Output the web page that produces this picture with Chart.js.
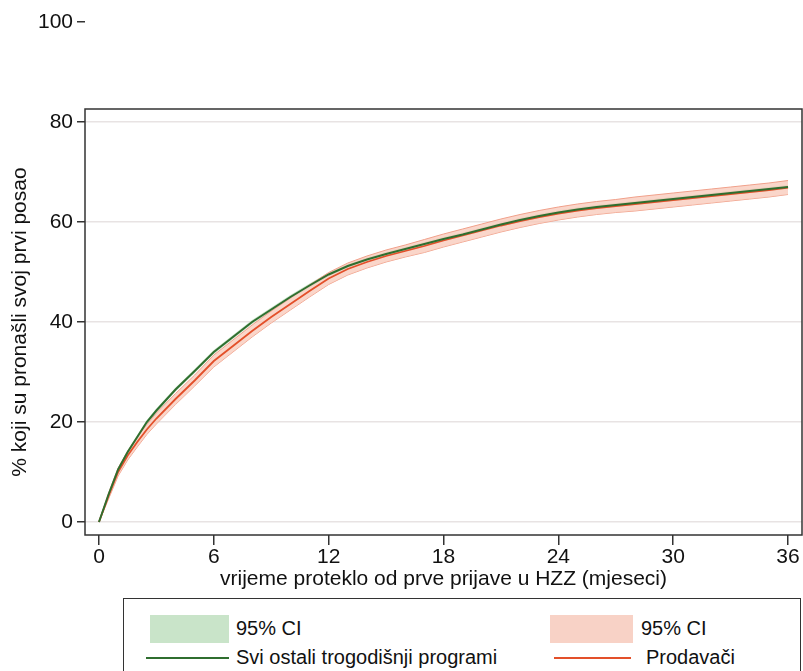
<!DOCTYPE html>
<html>
<head>
<meta charset="utf-8">
<script src="https://cdn.jsdelivr.net/npm/chart.js@4.4.1/dist/chart.umd.min.js"></script>
<style>
  html, body { margin: 0; padding: 0; background: #fff; }
  #wrap { position: relative; width: 803px; height: 671px; overflow: hidden; font-family: "Liberation Sans", Arial, sans-serif; }
  #legend { position: absolute; left: 123px; top: 598px; width: 676px; height: 90px; border: 1px solid #333; border-bottom: none; background: #fff; color: #111; font-size: 20px; }
  #legend div { position: absolute; }
  .txt { line-height: 24px; white-space: nowrap; }
</style>
</head>
<body>
<div id="wrap">
  <canvas id="kmChart" width="803" height="671"></canvas>
  <div id="legend">
    <div style="left:26px; top:16px; width:79px; height:28px; background:#c9e4c9;"></div>
    <div class="txt" style="left:112px; top:17px;">95% CI</div>
    <div style="left:426px; top:16px; width:83px; height:28px; background:#f8d2c6;"></div>
    <div class="txt" style="left:517px; top:17px;">95% CI</div>
    <div style="left:22px; top:58px; width:83px; height:2px; background:#2f6e2f;"></div>
    <div class="txt" style="left:112px; top:46px;">Svi ostali trogodišnji programi</div>
    <div style="left:430px; top:58px; width:77px; height:2px; background:#e3502a;"></div>
    <div class="txt" style="left:522px; top:46px;">Prodavači</div>
  </div>
</div>
<script>
// mjeseci od prve prijave
const months = [0, 0.5, 1, 1.5, 2, 2.5, 3, 4, 5, 6, 7, 8, 9, 10, 11, 12, 13, 14, 15, 16, 17, 18,
  19, 20, 21, 22, 23, 24, 25, 26, 27, 28, 29, 30, 31, 32, 33, 34, 35, 36];

// Svi ostali trogodišnji programi
const ostali = [0, 5.5, 10.5, 14, 17, 20, 22.3, 26.5, 30.2, 34, 37, 40, 42.5, 45, 47.3, 49.5, 51.2, 52.5,
  53.6, 54.6, 55.6, 56.6, 57.5, 58.5, 59.5, 60.4, 61.2, 61.9, 62.5, 63, 63.4, 63.8, 64.2, 64.6, 65,
  65.4, 65.8, 66.2, 66.6, 67];
const ostaliHi = [0, 5.8, 10.9, 14.4, 17.4, 20.4, 22.7, 26.9, 30.6, 34.4, 37.4, 40.4, 42.9, 45.4, 47.7, 49.9,
  51.6, 52.9, 54, 55, 56, 57, 57.9, 58.9, 59.9, 60.8, 61.6, 62.3, 62.9, 63.4, 63.8, 64.2, 64.6, 65,
  65.4, 65.8, 66.2, 66.6, 67, 67.4];
const ostaliLo = [0, 5.2, 10.1, 13.6, 16.6, 19.6, 21.9, 26.1, 29.8, 33.6, 36.6, 39.6, 42.1, 44.6, 46.9, 49.1,
  50.8, 52.1, 53.2, 54.2, 55.2, 56.2, 57.1, 58.1, 59.1, 60, 60.8, 61.5, 62.1, 62.6, 63, 63.4, 63.8,
  64.2, 64.6, 65, 65.4, 65.8, 66.2, 66.6];

// Prodavači
const prodavaci = [0, 5.2, 10, 13.3, 16, 18.5, 20.7, 24.6, 28.3, 32.2, 35.2, 38.2, 41, 43.6, 46.2, 48.7,
  50.6, 52, 53.2, 54.2, 55.2, 56.3, 57.3, 58.3, 59.3, 60.2, 61, 61.7, 62.3, 62.8, 63.2, 63.6, 64,
  64.4, 64.8, 65.2, 65.6, 66, 66.4, 66.9];
const prodavaciHi = [0, 5.8, 10.8, 14.2, 17, 19.5, 21.8, 25.7, 29.4, 33.4, 36.4, 39.4, 42.2, 44.8, 47.4, 49.9,
  51.8, 53.2, 54.4, 55.4, 56.5, 57.6, 58.6, 59.6, 60.6, 61.5, 62.3, 63, 63.6, 64.1, 64.5, 65, 65.4,
  65.8, 66.2, 66.6, 67, 67.4, 67.8, 68.3];
const prodavaciLo = [0, 4.6, 9.2, 12.4, 15, 17.5, 19.6, 23.5, 27.2, 31, 34, 37, 39.8, 42.4, 45, 47.5,
  49.4, 50.8, 52, 53, 53.9, 55, 56, 57, 58, 58.9, 59.7, 60.4, 61, 61.5, 61.9, 62.2, 62.6, 63, 63.4,
  63.8, 64.2, 64.6, 65, 65.5];

const xTicks = [0, 6, 12, 18, 24, 30, 36];
const yTicks = [0, 20, 40, 60, 80, 100];
const boxTop = 82.6;  // gornji rub okvira grafa (u jedinicama osi y)

const FONT = '"Liberation Sans", Arial, sans-serif';

function pts(arr) {
    return months.map((m, i) => ({ x: m, y: arr[i] }));
}

// okvir grafa i naslov osi y (Stata stil)
const framePlugin = {
    id: 'frame',
    afterDraw(chart) {
        const c = chart.ctx;
        const a = chart.chartArea;
        const top = chart.scales.y.getPixelForValue(boxTop);
        c.save();
        c.strokeStyle = '#333';
        c.lineWidth = 1.5;
        c.strokeRect(a.left, top, a.right - a.left, a.bottom - top);
        c.fillStyle = '#111';
        c.font = '21px ' + FONT;
        c.textAlign = 'center';
        c.textBaseline = 'middle';
        c.translate(20, (top + a.bottom) / 2);
        c.rotate(-Math.PI / 2);
        c.fillText('% koji su pronašli svoj prvi posao', 0, 0);
        c.restore();
    }
};

const ctx = document.getElementById('kmChart').getContext('2d');
new Chart(ctx, {
    type: 'line',
    data: {
        datasets: [
            { label: 'Svi ostali trogodišnji programi', data: pts(ostali), borderColor: '#2f6e2f', borderWidth: 2, pointRadius: 0, fill: false, order: 1 },
            { label: 'Prodavači', data: pts(prodavaci), borderColor: '#e3502a', borderWidth: 1.8, pointRadius: 0, fill: false, order: 2 },
            { label: '95% CI', data: pts(prodavaciHi), borderColor: '#f0a08a', borderWidth: 1, pointRadius: 0, fill: { target: 3 }, backgroundColor: 'rgba(248, 200, 184, 0.75)', order: 3 },
            { label: '95% CI lo', data: pts(prodavaciLo), borderColor: '#f0a08a', borderWidth: 1, pointRadius: 0, fill: false, order: 4 },
            { label: '95% CI', data: pts(ostaliHi), borderColor: 'rgba(0,0,0,0)', borderWidth: 0, pointRadius: 0, fill: { target: 5 }, backgroundColor: '#c9e4c9', order: 5 },
            { label: '95% CI lo', data: pts(ostaliLo), borderColor: 'rgba(0,0,0,0)', borderWidth: 0, pointRadius: 0, fill: false, order: 6 }
        ]
    },
    options: {
        responsive: false,
        animation: false,
        devicePixelRatio: 1,
        layout: { padding: { top: 22, right: 1, bottom: 71, left: 0 } },
        plugins: {
            legend: { display: false },
            tooltip: { enabled: false }
        },
        scales: {
            x: {
                type: 'linear',
                min: -0.73,
                max: 36.73,
                afterBuildTicks: s => { s.ticks = xTicks.map(v => ({ value: v })); },
                afterFit: s => { s.height = 65; },
                border: { display: false },
                grid: { drawOnChartArea: false, tickLength: 10, tickColor: '#333', lineWidth: 1.5 },
                ticks: { color: '#111', font: { family: FONT, size: 21 }, padding: 0, maxRotation: 0 },
                title: { display: true, text: 'vrijeme proteklo od prve prijave u HZZ (mjeseci)', color: '#111', font: { family: FONT, size: 21 }, padding: { top: 0, bottom: 8 } }
            },
            y: {
                type: 'linear',
                min: -2.6,
                max: 100,
                afterBuildTicks: s => { s.ticks = yTicks.map(v => ({ value: v })); },
                afterFit: s => { s.width = 85; },
                border: { display: false },
                grid: {
                    color: c => (c.tick && c.tick.value === 100) ? 'rgba(0,0,0,0)' : '#e8e3e3',
                    lineWidth: 1.5,
                    tickLength: 8,
                    tickColor: '#333'
                },
                ticks: { color: '#111', font: { family: FONT, size: 21 }, padding: 4 }
            }
        }
    },
    plugins: [framePlugin]
});
</script>
</body>
</html>
